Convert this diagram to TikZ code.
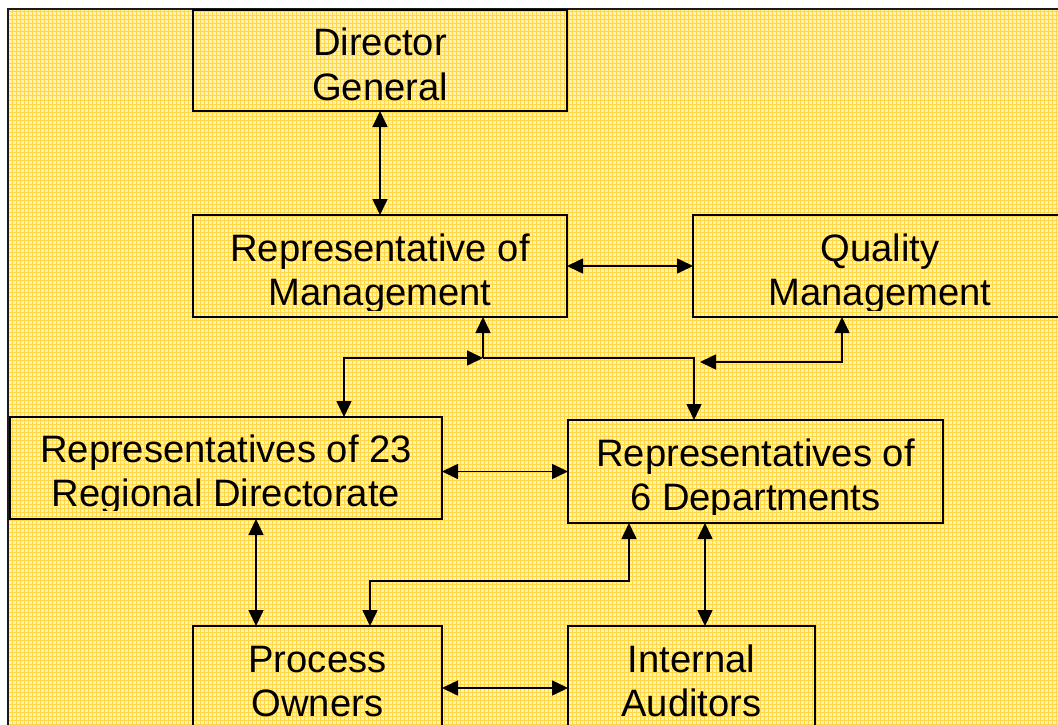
\documentclass[tikz,border=0pt]{standalone}
\usepackage{fontspec}
\setmainfont{Liberation Sans}
\usetikzlibrary{arrows.meta}

\definecolor{paper}{HTML}{FFF2B8}
\definecolor{weave}{HTML}{FFD645}
\definecolor{rim}{HTML}{1A1A1A}

\begin{document}
\begin{tikzpicture}[x=1pt,y=-1pt,
  orgbox/.style={draw=black, line width=1.6pt, inner sep=0pt, outer sep=0pt},
  caption/.style={font=\fontsize{38.2}{44}\selectfont, anchor=base, inner sep=0pt, outer sep=0pt},
  link/.style={line width=1.6pt, {Triangle[length=16pt,width=15pt]}-{Triangle[length=16pt,width=15pt]}},
  oneway/.style={line width=1.6pt, -{Triangle[length=16pt,width=15pt]}}]

\useasboundingbox (0,0) rectangle (1058,725);

% sheet with a fine woven grid
\fill[white] (0,0) rectangle (1058,725);
\fill[paper] (8,8) rectangle (1058,725);
\begin{scope}
  \clip (9,9) rectangle (1058,725);
  \draw[weave, line width=1pt, step=4pt] (8,8) grid (1062,729);
\end{scope}
\draw[rim, line width=2pt] (8.2,8.8) rectangle (1090,745);

% boxes
\node[orgbox, minimum width=374pt, minimum height=101pt] (dg)  at (380,60.5)   {};
\node[orgbox, minimum width=374pt, minimum height=102pt] (rm)  at (380,266)    {};
\node[orgbox, minimum width=374pt, minimum height=102pt] (qm)  at (880,266)    {};
\node[orgbox, minimum width=432pt, minimum height=102pt] (reg) at (226,468)    {};
\node[orgbox, minimum width=375pt, minimum height=103pt] (dep) at (755.5,471.5) {};
\node[orgbox, minimum width=249pt, minimum height=102pt] (po)  at (317.5,677)  {};
\node[orgbox, minimum width=247pt, minimum height=102pt] (ia)  at (691.5,677)  {};

% box captions, cut off at the bottom of each text frame
\begin{scope}
  \clip (dg.north west) rectangle ([yshift=8pt]dg.south east);
  \node[caption] (dg1) at (380,56) {Director};
  \node[caption] (dg2) at (380,100) {General};
\end{scope}
\begin{scope}
  \clip (rm.north west) rectangle ([yshift=7pt]rm.south east);
  \node[caption] (rm1) at (380,261) {Representative of};
  \node[caption] (rm2) at (380,305) {Management};
\end{scope}
\begin{scope}
  \clip (qm.north west) rectangle ([yshift=7pt]qm.south east);
  \node[caption] (qm1) at (880,261) {Quality};
  \node[caption] (qm2) at (880,305) {Management};
\end{scope}
\begin{scope}
  \clip (reg.north west) rectangle ([yshift=9pt]reg.south east);
  \node[caption] (reg1) at (226,462) {Representatives of 23};
  \node[caption] (reg2) at (226,506) {Regional Directorate};
\end{scope}
\begin{scope}
  \clip (dep.north west) rectangle ([yshift=9pt]dep.south east);
  \node[caption] (dep1) at (755.5,466) {Representatives of};
  \node[caption] (dep2) at (755.5,510) {6 Departments};
\end{scope}
\begin{scope}
  \clip (po.north west) rectangle (po.south east);
  \node[caption] (po1) at (317.5,672) {Process};
  \node[caption] (po2) at (317.5,716) {Owners};
\end{scope}
\begin{scope}
  \clip (ia.north west) rectangle (ia.south east);
  \node[caption] (ia1) at (691.5,672) {Internal};
  \node[caption] (ia2) at (691.5,716) {Auditors};
\end{scope}

% routing points
\coordinate (jn)        at (483,358);
\coordinate (leftdrop)  at (344,358);
\coordinate (rightdrop) at (694,358);
\coordinate (qmtap)     at (842,362);
\coordinate (qmend)     at (700,362);
\coordinate (regpo)     at (256,0);
\coordinate (depia)     at (705,0);
\coordinate (deptap)    at (629,581);
\coordinate (podrop)    at (370,581);
\coordinate (poia)      at (0,688);

% connectors
\draw[link] (dg.south) -- (rm.north);
\draw[link] (rm.east) -- (qm.west);
\draw[link] (reg.north -| leftdrop) -- (leftdrop) -- (jn);
\draw[oneway] (jn) -- (rm.south -| jn);
\draw[oneway] (jn) -- (rightdrop) -- (dep.north -| rightdrop);
\draw[link] (qm.south -| qmtap) -- (qmtap) -- (qmend);
\draw[link] (reg.east |- dep.west) -- (dep.west);
\draw[link] (reg.south -| regpo) -- (po.north -| regpo);
\draw[link] (dep.south -| depia) -- (ia.north -| depia);
\draw[link] (dep.south -| deptap) -- (deptap) -- (podrop) -- (po.north -| podrop);
\draw[link] (po.east |- poia) -- (ia.west |- poia);

\end{tikzpicture}
\end{document}
